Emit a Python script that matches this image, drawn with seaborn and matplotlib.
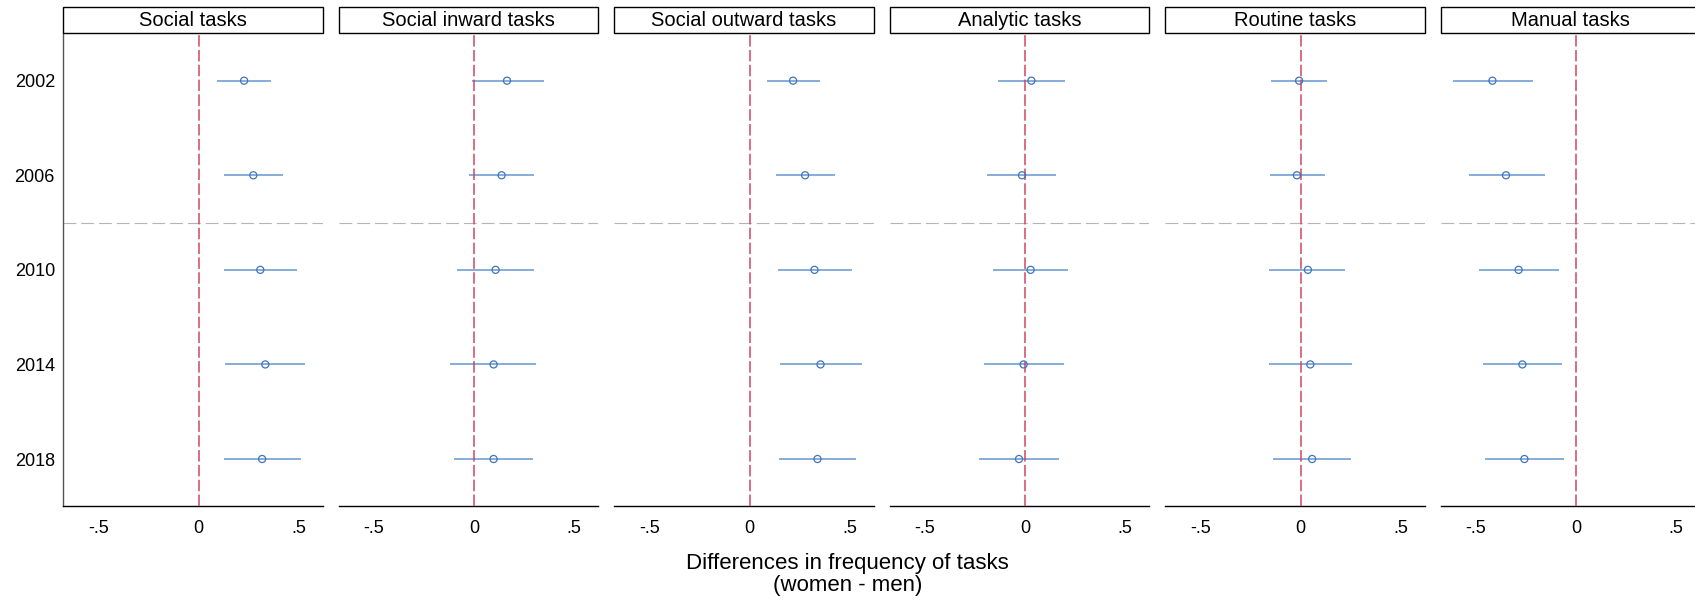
import numpy as np
import pandas as pd
import matplotlib
matplotlib.use("Agg")
import matplotlib.pyplot as plt
from matplotlib.patches import Rectangle
import seaborn as sns

# ---------------- data ----------------
tasks = ["Social tasks", "Social inward tasks", "Social outward tasks",
         "Analytic tasks", "Routine tasks", "Manual tasks"]
years = ["2002", "2006", "2010", "2014", "2018"]

social_est = [0.228, 0.274, 0.309, 0.334, 0.318]
social_lo = [0.093, 0.129, 0.129, 0.134, 0.129]
social_hi = [0.364, 0.421, 0.493, 0.533, 0.514]

inward_est = [0.165, 0.138, 0.108, 0.098, 0.098]
inward_lo = [-0.010, -0.027, -0.083, -0.120, -0.098]
inward_hi = [0.349, 0.300, 0.300, 0.311, 0.295]

outward_est = [0.218, 0.278, 0.325, 0.355, 0.340]
outward_lo = [0.085, 0.132, 0.143, 0.152, 0.148]
outward_hi = [0.353, 0.425, 0.513, 0.560, 0.533]

analytic_est = [0.032, -0.015, 0.028, -0.007, -0.030]
analytic_lo = [-0.135, -0.188, -0.160, -0.203, -0.228]
analytic_hi = [0.198, 0.153, 0.213, 0.193, 0.168]

routine_est = [-0.007, -0.018, 0.037, 0.049, 0.058]
routine_lo = [-0.147, -0.152, -0.157, -0.157, -0.137]
routine_hi = [0.132, 0.120, 0.223, 0.258, 0.253]

manual_est = [-0.418, -0.350, -0.287, -0.268, -0.258]
manual_lo = [-0.615, -0.537, -0.487, -0.465, -0.455]
manual_hi = [-0.213, -0.153, -0.087, -0.070, -0.060]

xtick_vals = [-0.5, 0, 0.5]
xtick_labels = ["-.5", "0", ".5"]
xlabel = "Differences in frequency of tasks\n(women - men)"

series = {
    "Social tasks": (social_est, social_lo, social_hi),
    "Social inward tasks": (inward_est, inward_lo, inward_hi),
    "Social outward tasks": (outward_est, outward_lo, outward_hi),
    "Analytic tasks": (analytic_est, analytic_lo, analytic_hi),
    "Routine tasks": (routine_est, routine_lo, routine_hi),
    "Manual tasks": (manual_est, manual_lo, manual_hi),
}

rows = []
for t in tasks:
    est, lo, hi = series[t]
    for i, y in enumerate(years):
        rows.append({"task": t, "year": y, "ypos": i, "est": est[i], "lo": lo[i], "hi": hi[i]})
df = pd.DataFrame(rows)

# ---------------- style ----------------
sns.set_theme(style="white")
plt.rcParams["font.family"] = ["Liberation Sans", "DejaVu Sans"]

W, H = 1695, 601
LINE_BLUE = "#6f9fd3"
MARK_BLUE = "#3f74bd"
RED = "#cf4660"


def draw(data, **kw):
    ax = plt.gca()
    ax.hlines(data["ypos"], data["lo"], data["hi"], color=LINE_BLUE, lw=1.2, zorder=2)
    sns.scatterplot(data=data, x="est", y="ypos", ax=ax, marker="o", s=26,
                    facecolor="none", edgecolor=MARK_BLUE, linewidth=0.9, zorder=4)


g = sns.FacetGrid(df, col="task", col_order=tasks, sharex=True, sharey=True,
                  height=5, aspect=0.5, despine=False)
g.map_dataframe(draw)
fig = g.figure
fig.set_size_inches(W / 100, H / 100)

ax_w = 259.4
ax_step = 275.5
ax_left0 = 63.3
ax_top = 33.4
ax_bot = 506.3
strip_top = 7.3

axes = list(g.axes.flat)
for i, (ax, t) in enumerate(zip(axes, tasks)):
    left = ax_left0 + i * ax_step
    ax.set_position([left / W, (H - ax_bot) / H, ax_w / W, (ax_bot - ax_top) / H])
    ax.set_title("")
    ax.set_xlabel("")
    ax.set_ylabel("")
    ax.tick_params(axis="x", length=0, pad=10, labelsize=13, colors="black")
    ax.tick_params(axis="y", length=0, pad=6, labelsize=13, colors="black",
                   labelleft=(i == 0))
    ax.grid(False)
    for s in ["top", "right"]:
        ax.spines[s].set_visible(False)
    ax.spines["bottom"].set_color("black")
    ax.spines["bottom"].set_linewidth(1.0)
    if i == 0:
        ax.spines["left"].set_color("#555555")
        ax.spines["left"].set_linewidth(1.0)
    else:
        ax.spines["left"].set_visible(False)

    # reference lines
    ax.axvline(0, color=RED, lw=1.1, dashes=(7.5, 2.2), zorder=3)
    ax.axhline(1.5, color="#b5b5b5", lw=0.8, dashes=(11.5, 4.5), zorder=1)

    # strip header
    sh = (ax_top - strip_top) / (ax_bot - ax_top)
    rect = Rectangle((0, 1.0), 1.0, sh, transform=ax.transAxes, facecolor="white",
                     edgecolor="black", lw=1.0, clip_on=False, zorder=5)
    ax.add_patch(rect)
    ax.text(0.5, 1.0 + sh / 2, t, transform=ax.transAxes, ha="center", va="center",
            fontsize=14.5, color="black", zorder=6)

# shared axes: set limits / ticks once
ax0 = axes[0]
ax0.set_xlim(-0.676, 0.621)
ax0.set_ylim(len(years) - 0.5, -0.5)
ax0.set_xticks(xtick_vals)
ax0.set_xticklabels(xtick_labels)
ax0.set_yticks(range(len(years)))
ax0.set_yticklabels(years)

fig.text(847.3 / W, 1 - 574.7 / H, xlabel, ha="center", va="center",
         fontsize=16, linespacing=1.05, color="black")

fig.savefig("out.png", dpi=100, facecolor="white")
